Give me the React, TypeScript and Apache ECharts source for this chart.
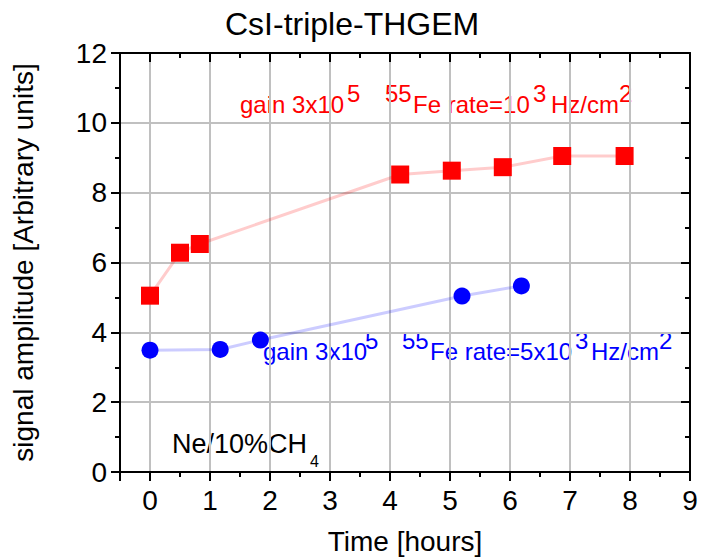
import React, { useEffect, useRef } from 'react';
import * as echarts from 'echarts';

// Red series: gain 3x10^5, 55Fe rate = 10^3 Hz/cm^2
const redTime = [0, 0.5, 0.83, 4.17, 5.03, 5.88, 6.87, 7.91];
const redAmp = [5.05, 6.28, 6.53, 8.52, 8.63, 8.73, 9.05, 9.05];
// Blue series: gain 3x10^5, 55Fe rate = 5x10^3 Hz/cm^2
const blueTime = [0, 1.17, 1.84, 5.2, 6.19];
const blueAmp = [3.49, 3.51, 3.78, 5.04, 5.33];

const xMin = -0.5;
const xMax = 9;
const yMin = 0;
const yMax = 12;
const yStep = 2;

const FONT = '"Liberation Sans", Arial, Helvetica, sans-serif';
const BLACK = '#000000';
const GRID_GRAY = '#c0c0c0';

export default function App() {
  const ref = useRef<HTMLDivElement>(null);

  useEffect(() => {
    if (!ref.current) return;
    const chart = echarts.init(ref.current, null, { renderer: 'svg' });

    const axisLine = { show: true, onZero: false, lineStyle: { color: BLACK, width: 2 } };
    const noLabel = { show: false };
    const noSplit = { show: false };

    const txt = (text: string, x: number, y: number, size: number, color: string) => ({
      type: 'text',
      x,
      y,
      silent: true,
      style: {
        text,
        fill: color,
        fontSize: size,
        fontFamily: FONT,
        align: 'left',
        verticalAlign: 'middle',
      },
    });

    chart.setOption({
      animation: false,
      backgroundColor: '#ffffff',
      title: {
        text: 'CsI-triple-THGEM',
        left: 225,
        top: 8,
        padding: 0,
        textStyle: { fontSize: 32, fontWeight: 'normal', color: BLACK, fontFamily: FONT },
      },
      grid: { left: 120, right: 12, top: 53, bottom: 87, containLabel: false },
      xAxis: [
        {
          type: 'value',
          position: 'bottom',
          min: xMin,
          max: xMax,
          minInterval: 1,
          maxInterval: 1,
          axisLine,
          axisTick: { show: true, inside: false, length: 9, lineStyle: { color: BLACK, width: 2 } },
          axisLabel: {
            show: true,
            fontSize: 28,
            color: BLACK,
            fontFamily: FONT,
            margin: 14,
            formatter: (v: number) => (v < 0 ? '' : String(v)),
          },
          splitLine: { show: true, lineStyle: { color: GRID_GRAY, width: 2 } },
          name: 'Time [hours]',
          nameLocation: 'middle',
          nameGap: 55,
          nameTextStyle: { fontSize: 28, color: BLACK, fontFamily: FONT },
        },
        {
          type: 'value',
          position: 'bottom',
          min: xMin,
          max: xMax,
          interval: 0.5,
          axisLine: { show: false, onZero: false },
          axisTick: { show: true, inside: false, length: 5, lineStyle: { color: BLACK, width: 2 } },
          axisLabel: noLabel,
          splitLine: noSplit,
        },
        {
          type: 'value',
          position: 'top',
          min: xMin,
          max: xMax,
          minInterval: 1,
          maxInterval: 1,
          axisLine,
          axisTick: { show: true, inside: true, length: 9, lineStyle: { color: BLACK, width: 2 } },
          axisLabel: noLabel,
          splitLine: noSplit,
        },
        {
          type: 'value',
          position: 'top',
          min: xMin,
          max: xMax,
          interval: 0.5,
          axisLine: { show: false, onZero: false },
          axisTick: { show: true, inside: true, length: 5, lineStyle: { color: BLACK, width: 2 } },
          axisLabel: noLabel,
          splitLine: noSplit,
        },
      ],
      yAxis: [
        {
          type: 'value',
          position: 'left',
          min: yMin,
          max: yMax,
          interval: yStep,
          axisLine,
          axisTick: { show: true, inside: false, length: 9, lineStyle: { color: BLACK, width: 2 } },
          minorTick: { show: true, splitNumber: 2, length: 5, lineStyle: { color: BLACK, width: 2 } },
          axisLabel: { show: true, fontSize: 28, color: BLACK, fontFamily: FONT, margin: 13 },
          splitLine: { show: true, lineStyle: { color: GRID_GRAY, width: 2 } },
          name: 'signal amplitude [Arbitrary units]',
          nameLocation: 'middle',
          nameGap: 83,
          nameTextStyle: { fontSize: 28, color: BLACK, fontFamily: FONT },
        },
        {
          type: 'value',
          position: 'right',
          min: yMin,
          max: yMax,
          interval: yStep,
          axisLine,
          axisTick: { show: true, inside: true, length: 9, lineStyle: { color: BLACK, width: 2 } },
          minorTick: { show: true, splitNumber: 2, length: 5, lineStyle: { color: BLACK, width: 2 } },
          axisLabel: noLabel,
          splitLine: noSplit,
        },
      ],
      series: [
        {
          name: 'rate 10^3',
          type: 'line',
          xAxisIndex: 0,
          yAxisIndex: 0,
          data: redTime.map((t, i) => [t, redAmp[i]]),
          symbol: 'rect',
          symbolSize: 18,
          showSymbol: true,
          itemStyle: { color: '#ff0000' },
          lineStyle: { color: 'rgba(255,0,0,0.2)', width: 3 },
          z: 3,
        },
        {
          name: 'rate 5x10^3',
          type: 'line',
          xAxisIndex: 0,
          yAxisIndex: 0,
          data: blueTime.map((t, i) => [t, blueAmp[i]]),
          symbol: 'circle',
          symbolSize: 17,
          showSymbol: true,
          itemStyle: { color: '#0000ff' },
          lineStyle: { color: 'rgba(0,0,255,0.2)', width: 3 },
          z: 3,
        },
      ],
      graphic: [
        // red annotation
        txt('gain 3x10', 240, 104.6, 24, '#ff0000'),
        txt('5', 347, 93.6, 24, '#ff0000'),
        txt('55', 385, 93.6, 24, '#ff0000'),
        txt('Fe rate=10', 413, 104.6, 24, '#ff0000'),
        txt('3', 533, 93.6, 24, '#ff0000'),
        txt('Hz/cm', 551, 104.6, 24, '#ff0000'),
        txt('2', 619, 93.6, 24, '#ff0000'),
        // blue annotation
        txt('gain 3x10', 263, 351.6, 24, '#0000ff'),
        txt('5', 365, 340.6, 24, '#0000ff'),
        txt('55', 402, 340.6, 24, '#0000ff'),
        txt('Fe rate=5x10', 430, 351.6, 24, '#0000ff'),
        txt('3', 575, 340.6, 24, '#0000ff'),
        txt('Hz/cm', 591, 351.6, 24, '#0000ff'),
        txt('2', 659, 340.6, 24, '#0000ff'),
        // gas label
        txt('Ne/10%CH', 172, 444, 27, BLACK),
        txt('4', 310, 461, 16, BLACK),
      ],
    });

    return () => chart.dispose();
  }, []);

  return (
    <div
      ref={ref}
      style={{ position: 'fixed', left: 0, top: 0, width: 702, height: 560, background: '#ffffff' }}
    />
  );
}
